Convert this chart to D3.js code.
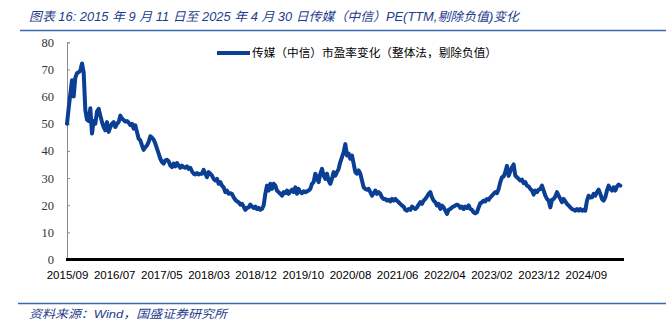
<!DOCTYPE html>
<html><head><meta charset="utf-8">
<script src="https://cdn.jsdelivr.net/npm/d3@7"></script>
<style>
html,body{margin:0;padding:0;background:#fff;}
svg{display:block;}
</style></head>
<body>
<svg id="chart" width="669" height="321"></svg>
<script>
// ---- data ----
const titleText = "图表 16:  2015 年 9 月 11 日至 2025 年 4 月 30 日传媒（中信）PE(TTM,剔除负值)变化";
const seriesName = "传媒（中信）市盈率变化（整体法，剔除负值）";
const sourceText = "资料来源：Wind，国盛证券研究所";
const startDate = "2015-09-11";
const endDate = "2025-04-30";
const xTickLabels = ["2015/09","2016/07","2017/05","2018/03","2018/12","2019/10","2020/08","2021/06","2022/04","2023/02","2023/12","2024/09"];
const yTicks = [0,10,20,30,40,50,60,70,80];
// PE values, evenly spaced in trading time from startDate to endDate
const peValues = [
50,55.7,61,66,60,67,68.6,69,69.5,72.2,69,55,51.5,51,55.7,46.4,51,50,54.5,55.5,
53,50.6,48.8,47.6,50.6,47,48.8,50,50.6,48.8,50,50.6,53,51.9,51.4,50.8,51,50.4,49.5,50,
48.2,49.4,47,44.5,43.9,42,40.4,41.4,42,43.3,45.4,44.9,44.1,42.7,40.8,39,37.1,35.9,35.3,36.5,
36.7,36.2,34.6,34,35.3,34.3,35.5,34.6,33.8,34.6,34,33.8,34.3,33.4,33.8,32.5,31.6,31.3,31.8,31.3,
31.6,
// 2018
31.6,33,31.6,30.3,32.2,31.6,30.9,29.7,29.1,29.7,27.9,28.5,27.2,26.6,24.8,25.4,24.2,24.4,24.2,22.9,
22,21.4,21.1,20.2,20.5,19.5,18.3,19,19.2,20.2,19.5,19,19.5,18.6,19,18.3,18.6,19.9,24.2,27.2,
25.4,27.9,26,27.9,27.2,25.4,24.8,24.2,23.5,24.8,24.4,25.4,24.2,25.1,25.7,24.8,26.6,24.2,26,24.8,
24.4,25.1,24.8,25.1,25.4,26,27.9,28.5,31.6,30.3,28.5,31.6,33.4,30.9,29.7,31.6,29.1,27.9,29.7,32.2,
// 2020
30.9,32.2,33.4,35.9,37.7,39.5,42.5,38.3,39,37.1,38.3,35.3,32.2,31.6,32.8,31.6,29.1,26.6,26,25.7,
26,24.8,23.5,24.4,25.4,24.2,24.8,24.2,22.9,22.3,22.3,21.7,22,21.4,22.3,21.7,22.3,21.7,21.1,20.5,
19.9,19.5,18.3,18,18.6,18.3,19.5,19,18.6,19.2,20.2,21.1,20.5,21.7,22.3,23.2,24.2,24.8,22.9,21.7,
21.1,19.9,20.5,18.6,19.9,19.2,18,16.8,18.3,18.6,19.2,19.5,19.9,20.2,19.9,19,19.5,18.6,19.5,19,
19.9,
// 2022 late
18.6,18.3,17.4,17,17.4,19.2,20.7,21.1,21.7,21.4,22.3,22,22.9,23.5,24.2,24.8,24.4,26,28.5,30.3,
30.6,32.2,34.5,30.8,32.5,34,35,30.9,30.3,29.7,29.1,29.4,28.1,28.5,27.2,26.9,26,25.4,23.9,25.4,
24.8,25.7,26,27.2,25.4,23.5,22.3,21.7,19.2,22,22.3,23.2,24.8,23.5,22.3,21.1,22.3,21.4,20.5,19.9,
19.2,18.6,18.3,18,18.6,18,18.6,18,18.3,18,21.7,23.5,22.8,22.9,24.2,23.5,24.8,25.7,24.2,22.3,
21.7,22.9,25.4,27.2,26,25.4,26.6,25.4,26.9,27.6,27.2
];

// ---- layout ----
const svg = d3.select("#chart");
const plot = {left: 67, right: 620.3, top: 42.3, bottom: 259.5};
const axisRight = 624;
const labelStep = 28.3; // data points between category labels

const x = d3.scaleLinear().domain([0, peValues.length - 1]).range([plot.left, plot.right]);
const y = d3.scaleLinear().domain([0, 80]).range([plot.bottom, plot.top]);

const blue = "#1f3c8c";

// header / footer rules
svg.append("line").attr("x1", 20).attr("x2", 666).attr("y1", 30.5).attr("y2", 30.5)
  .attr("stroke", "#3a68b0").attr("stroke-width", 1.5);
svg.append("line").attr("x1", 18).attr("x2", 666).attr("y1", 303.5).attr("y2", 303.5)
  .attr("stroke", "#3a68b0").attr("stroke-width", 1.5);

svg.append("text").attr("x", 29).attr("y", 21)
  .attr("font-family", "'Liberation Sans','Noto Sans CJK SC',sans-serif")
  .attr("font-style", "italic").attr("font-size", 12.5).attr("fill", blue)
  .attr("textLength", 490).attr("lengthAdjust", "spacingAndGlyphs")
  .text(titleText);

svg.append("text").attr("x", 29).attr("y", 318)
  .attr("font-family", "'Liberation Sans','Noto Sans CJK SC',sans-serif")
  .attr("font-style", "italic").attr("font-size", 11.5).attr("fill", blue)
  .attr("textLength", 198).attr("lengthAdjust", "spacingAndGlyphs")
  .text(sourceText);

// y axis
const yAxis = d3.axisLeft(y).tickValues(yTicks).tickSize(-3).tickPadding(13);
const gy = svg.append("g").attr("transform", `translate(${plot.left},0)`).call(yAxis);
gy.select(".domain").attr("stroke", "#8c8c8c");
gy.selectAll(".tick line").attr("stroke", "#8c8c8c");
gy.selectAll(".tick text").attr("font-family", "'Liberation Serif',serif")
  .attr("font-size", 12.5).attr("fill", "#333");

// x axis
const xAxis = d3.axisBottom(x)
  .tickValues(xTickLabels.map((d, k) => k * labelStep))
  .tickFormat((d, k) => xTickLabels[k]).tickSize(0).tickPadding(11);
const gx = svg.append("g").attr("transform", `translate(0,${plot.bottom})`).call(xAxis);
gx.select(".domain").remove();
gx.append("line").attr("x1", plot.left - 1).attr("x2", axisRight).attr("y1", 0).attr("y2", 0)
  .attr("stroke", "#000").attr("stroke-width", 3);
gx.selectAll(".tick text").attr("font-family", "'Liberation Sans',sans-serif")
  .attr("font-size", 11.5).attr("fill", "#000");

// line
const line = d3.line().x((d, i) => x(i)).y(d => y(d)).curve(d3.curveLinear);
svg.append("path").datum(peValues).attr("d", line)
  .attr("fill", "none").attr("stroke", "#0b3f94").attr("stroke-width", 4)
  .attr("stroke-linejoin", "round").attr("stroke-linecap", "round");

// legend
svg.append("line").attr("x1", 217).attr("x2", 250).attr("y1", 53).attr("y2", 53)
  .attr("stroke", "#0b3f94").attr("stroke-width", 4);
svg.append("text").attr("x", 252).attr("y", 57)
  .attr("font-family", "'Noto Sans CJK SC',sans-serif").attr("font-size", 11.5).attr("fill", "#000")
  .attr("textLength", 245).attr("lengthAdjust", "spacingAndGlyphs")
  .text(seriesName);
</script>
</body></html>
